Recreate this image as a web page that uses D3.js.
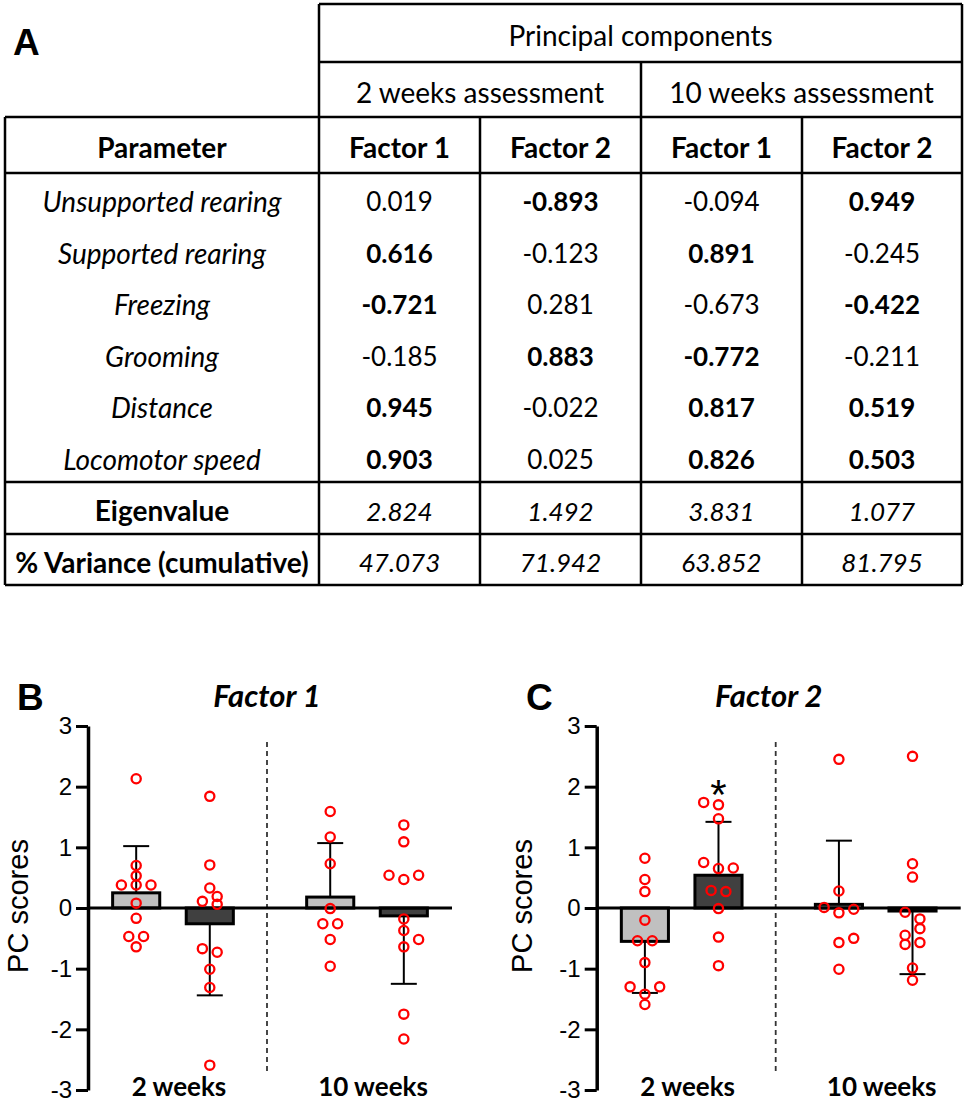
<!DOCTYPE html>
<html>
<head>
<meta charset="utf-8">
<script src="https://cdn.jsdelivr.net/npm/d3@7"></script>
<style>
body { margin: 0; background: #fff; }
svg { display: block; }
.tbl text { font-family: Lato, "Open Sans", sans-serif; font-size: 28px; fill: #000; }
.tbl text.num { font-size: 26px; }
.tbl line { stroke: #000; stroke-width: 2.5; }
.tick text { font-family: "Liberation Sans", Arial, sans-serif; font-size: 24px; fill: #000; }
.tick line { stroke: #000; stroke-width: 3; }
.domain { stroke: #000; stroke-width: 3.5; }
</style>
</head>
<body>
<svg class="chart"></svg>
<script>
// ---- table A ----
var params = ["Unsupported rearing", "Supported rearing", "Freezing", "Grooming", "Distance", "Locomotor speed"];
var assessments = ["2 weeks assessment", "10 weeks assessment"];
var factorNames = ["Factor 1", "Factor 2", "Factor 1", "Factor 2"];
var loadings = [
    ["0.019", "-0.893", "-0.094", "0.949"],
    ["0.616", "-0.123", "0.891", "-0.245"],
    ["-0.721", "0.281", "-0.673", "-0.422"],
    ["-0.185", "0.883", "-0.772", "-0.211"],
    ["0.945", "-0.022", "0.817", "0.519"],
    ["0.903", "0.025", "0.826", "0.503"]
];
var boldCells = [
    [0, 1, 0, 1],
    [1, 0, 1, 0],
    [1, 0, 0, 1],
    [0, 1, 1, 0],
    [1, 0, 1, 1],
    [1, 0, 1, 1]
];
var eigenvalues = ["2.824", "1.492", "3.831", "1.077"];
var variances = ["47.073", "71.942", "63.852", "81.795"];

// ---- panels B / C ----
var groups = ["2 weeks", "10 weeks"];
var series = ["s1", "s2"];

// order: [2 weeks s1, 2 weeks s2, 10 weeks s1, 10 weeks s2]
var f1Means = [0.25, -0.26, 0.18, -0.13];
var f1ErrEnd = [1.02, -1.44, 1.07, -1.25];
var f1Sig = ["", "", "", ""];
// [score, side]  side = which column of the dot cluster
var f1Points = [
    [[2.13,0],[0.70,0],[0.53,0],[0.38,-2],[0.38,0],[0.38,2],[0.08,0],[-0.17,0],[-0.47,-1],[-0.47,1],[-0.64,0]],
    [[1.84,0],[0.71,0],[0.33,0],[0.19,1],[0.11,-1],[0.06,1],[-0.67,-1],[-0.73,1],[-1.01,0],[-1.31,0],[-2.59,0]],
    [[1.59,0],[1.17,0],[0.73,0],[-0.01,0],[-0.26,-1],[-0.26,1],[-0.52,0],[-0.96,0]],
    [[1.37,0],[1.09,0],[0.54,-2],[0.54,2],[0.47,0],[-0.18,0],[-0.37,0],[-0.52,2],[-0.64,0],[-1.75,0],[-2.16,0]]
];

var f2Means = [-0.55, 0.54, 0.06, -0.05];
var f2ErrEnd = [-1.40, 1.42, 1.11, -1.09];
var f2Sig = ["", "*", "", ""];
var f2Points = [
    [[0.82,0],[0.47,0],[0.27,0],[-0.20,0],[-0.54,-1],[-0.54,1],[-0.90,0],[-1.30,-2],[-1.30,2],[-1.42,0],[-1.59,0]],
    [[1.74,-2],[1.70,0],[1.47,0],[0.75,-2],[0.65,0],[0.66,2],[0.29,-1],[0.27,1],[-0.01,0],[-0.48,0],[-0.95,0]],
    [[2.45,0],[0.28,0],[0.01,-2],[-0.02,2],[-0.08,0],[-0.50,2],[-0.57,0],[-1.01,0]],
    [[2.50,0],[0.73,0],[0.51,0],[-0.07,-1],[-0.18,1],[-0.34,1],[-0.45,-1],[-0.57,1],[-0.60,-1],[-0.99,0],[-1.19,0]]
];
var yTicks = [-3, -2, -1, 0, 1, 2, 3];

var width = 968, height = 1108;
var chart = d3.select(".chart").attr("width", width).attr("height", height);

function letter(x, y, s) {
    chart.append("text").attr("x", x).attr("y", y).text(s)
        .style("font-family", "'Liberation Sans', Arial, sans-serif")
        .style("font-weight", "bold").style("font-size", "37px");
}

// ---------------- table ----------------
function drawTable() {
    var colEdges = [5, 319, 480, 641, 802, 962];
    var rowEdges = [4, 62, 117, 173, 482, 534, 585];
    var tbl = chart.append("g").attr("class", "tbl");
    var rows = d3.scaleBand().domain(params).range([rowEdges[3], rowEdges[4]]);
    var cx = function(i) { return (colEdges[i] + colEdges[i + 1]) / 2; };
    var mid = function(a, b) { return (a + b) / 2 + 3.5; };

    var hl = [[319, 962, 4], [319, 962, 62], [5, 962, 117], [5, 962, 173], [5, 962, 482], [5, 962, 534], [5, 962, 585]];
    var vl = [[5, 117, 585], [319, 4, 585], [480, 117, 585], [641, 62, 585], [802, 117, 585], [962, 4, 585]];
    tbl.selectAll("line.h").data(hl).enter().append("line")
        .attr("x1", function(d) { return d[0]; }).attr("x2", function(d) { return d[1]; })
        .attr("y1", function(d) { return d[2]; }).attr("y2", function(d) { return d[2]; });
    tbl.selectAll("line.v").data(vl).enter().append("line")
        .attr("x1", function(d) { return d[0]; }).attr("x2", function(d) { return d[0]; })
        .attr("y1", function(d) { return d[1]; }).attr("y2", function(d) { return d[2]; });

    function cell(x, y, s, weight, style, cls) {
        return tbl.append("text").attr("x", x).attr("y", y).attr("dy", "0.35em")
            .attr("class", cls || null)
            .attr("text-anchor", "middle").text(s)
            .style("font-weight", weight || "normal").style("font-style", style || "normal");
    }

    cell((319 + 962) / 2, mid(rowEdges[0], rowEdges[1]), "Principal components");
    assessments.forEach(function(a, i) {
        cell((colEdges[1 + 2 * i] + colEdges[3 + 2 * i]) / 2, mid(rowEdges[1], rowEdges[2]), a);
    });
    cell(cx(0), mid(rowEdges[2], rowEdges[3]), "Parameter", "bold");
    factorNames.forEach(function(f, i) { cell(cx(i + 1), mid(rowEdges[2], rowEdges[3]), f, "bold"); });

    params.forEach(function(p, r) {
        var y = rows(p) + rows.bandwidth() / 2 + 3.5;
        cell(cx(0), y, p, "normal", "italic");
        loadings[r].forEach(function(v, c) { cell(cx(c + 1), y, v, boldCells[r][c] ? "bold" : "normal", "normal", "num"); });
    });

    cell(cx(0), mid(rowEdges[4], rowEdges[5]), "Eigenvalue", "bold");
    eigenvalues.forEach(function(v, c) { cell(cx(c + 1), mid(rowEdges[4], rowEdges[5]), v, "normal", "italic", "num"); });
    cell(cx(0), mid(rowEdges[5], rowEdges[6]), "% Variance (cumulative)", "bold");
    variances.forEach(function(v, c) { cell(cx(c + 1), mid(rowEdges[5], rowEdges[6]), v, "normal", "italic", "num"); });
}

// ---------------- bar panels ----------------
function drawPanel(opt) {
    var plotW = 364;
    var y = d3.scaleLinear().domain([-3, 3]).range([1090, 726]);
    var x0 = d3.scaleBand().domain(groups).range([0, plotW]).paddingInner(0.2).paddingOuter(0.038);
    var x1 = d3.scaleBand().domain(series).range([0, x0.bandwidth()]).paddingInner(0.36).paddingOuter(0.2345);
    var fills = ["#c0c0c0", "#404040"];
    var sideStep = 7.4;

    var g = chart.append("g").attr("transform", "translate(" + opt.left + ",0)");

    var bars = [];
    groups.forEach(function(gr, gi) {
        series.forEach(function(s, si) {
            var k = gi * 2 + si;
            bars.push({ x: x0(gr) + x1(s), cx: x0(gr) + x1(s) + x1.bandwidth() / 2, fill: fills[si],
                        mean: opt.means[k], err: opt.errEnd[k], sig: opt.sig[k], pts: opt.points[k] });
        });
    });

    // divider
    var divX = (x0(groups[0]) + x0.bandwidth() + x0(groups[1])) / 2 - 3;
    g.append("line").attr("x1", divX).attr("x2", divX).attr("y1", 742).attr("y2", 1073)
        .attr("stroke", "#333").attr("stroke-width", 1.8).attr("stroke-dasharray", "5,4");

    g.selectAll("rect.bar").data(bars).enter().append("rect")
        .attr("x", function(d) { return d.x; })
        .attr("width", x1.bandwidth())
        .attr("y", function(d) { return Math.min(y(d.mean), y(0)); })
        .attr("height", function(d) { return Math.abs(y(d.mean) - y(0)); })
        .attr("fill", function(d) { return d.fill; })
        .attr("stroke", "#000").attr("stroke-width", 3);

    // zero line
    g.append("line").attr("x1", 0).attr("x2", plotW).attr("y1", y(0)).attr("y2", y(0))
        .attr("stroke", "#000").attr("stroke-width", 3);

    // error bars
    var eb = g.selectAll("g.err").data(bars).enter().append("g");
    eb.append("line").attr("x1", function(d) { return d.cx; }).attr("x2", function(d) { return d.cx; })
        .attr("y1", function(d) { return y(d.mean); }).attr("y2", function(d) { return y(d.err); })
        .attr("stroke", "#000").attr("stroke-width", 2);
    eb.append("line").attr("x1", function(d) { return d.cx - 13; }).attr("x2", function(d) { return d.cx + 13; })
        .attr("y1", function(d) { return y(d.err); }).attr("y2", function(d) { return y(d.err); })
        .attr("stroke", "#000").attr("stroke-width", 2);

    // points
    bars.forEach(function(b) {
        g.append("g").selectAll("circle").data(b.pts).enter().append("circle")
            .attr("cx", function(d) { return b.cx + d[1] * sideStep; })
            .attr("cy", function(d) { return y(d[0]); })
            .attr("r", 4.6).attr("fill", "none").attr("stroke", "#ff0000").attr("stroke-width", 2.3);
    });

    // significance
    g.selectAll("text.sig").data(bars.filter(function(d) { return d.sig; })).enter().append("text")
        .attr("x", function(d) { return d.cx; }).attr("y", function(d) { return y(d.err) - 13; })
        .attr("text-anchor", "middle").text(function(d) { return d.sig; })
        .style("font-family", "'Liberation Sans', Arial, sans-serif").style("font-size", "42px");

    // y axis
    var ax = g.append("g").call(d3.axisLeft(y).tickValues(yTicks).tickSize(12).tickSizeOuter(0).tickPadding(4)
        .tickFormat(d3.format("d")));
    ax.selectAll(".tick text").text(function(d) { return d < 0 ? "-" + Math.abs(d) : d; });

    // group labels
    g.selectAll("text.grp").data(groups).enter().append("text")
        .attr("x", function(d) { return x0(d) + x0.bandwidth() / 2 + 6; }).attr("y", 1096)
        .attr("text-anchor", "middle").text(function(d) { return d; })
        .style("font-family", "Lato, sans-serif").style("font-weight", "bold").style("font-size", "26px");

    // title
    g.append("text").attr("x", opt.titleX).attr("y", 707).attr("text-anchor", "middle").text(opt.title)
        .style("font-family", "Lato, sans-serif").style("font-weight", "bold").style("font-style", "italic")
        .style("font-size", "31px");

    // y label
    g.append("text").attr("transform", "translate(" + opt.labelX + "," + 906 + ") rotate(-90)")
        .attr("text-anchor", "middle").text("PC scores")
        .style("font-family", "'Liberation Sans', Arial, sans-serif").style("font-size", "29px");

    letter(opt.letterX, 710, opt.letter);
}

letter(13, 55, "A");
drawTable();
drawPanel({ left: 88, title: "Factor 1", titleX: 179, labelX: -60, letter: "B", letterX: 17,
            means: f1Means, errEnd: f1ErrEnd, sig: f1Sig, points: f1Points });
drawPanel({ left: 596.7, title: "Factor 2", titleX: 172, labelX: -65, letter: "C", letterX: 526,
            means: f2Means, errEnd: f2ErrEnd, sig: f2Sig, points: f2Points });
</script>
</body>
</html>
